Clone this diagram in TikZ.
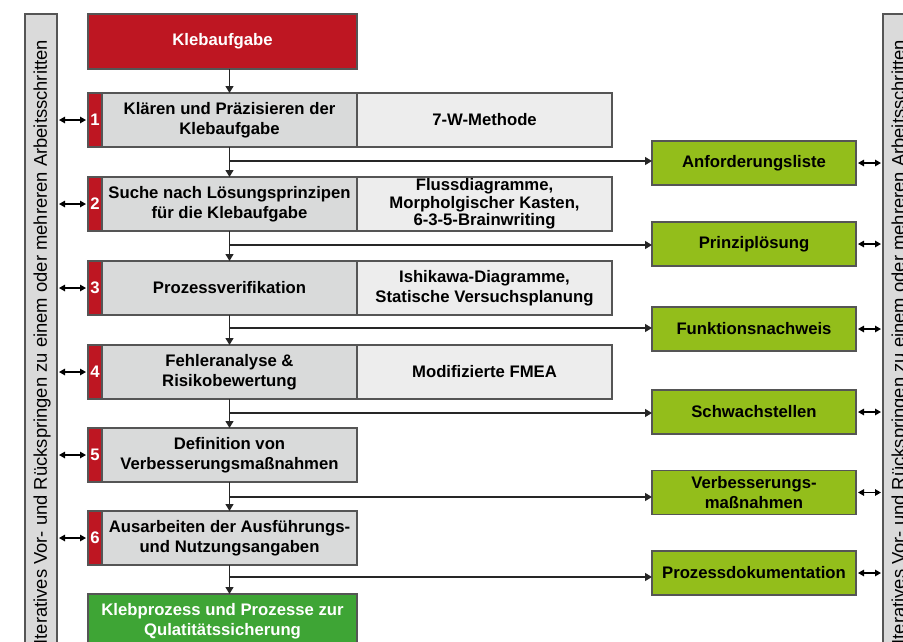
\documentclass[tikz,border=0pt]{standalone}
\usepackage{fontspec}
\setmainfont{Liberation Sans}
\usetikzlibrary{arrows.meta}
\definecolor{kred}{HTML}{BE1622}
\definecolor{stepgray}{HTML}{D9DADA}
\definecolor{methgray}{HTML}{EDEDED}
\definecolor{resgreen}{HTML}{93BE1B}
\definecolor{endgreen}{HTML}{3EA535}
\definecolor{bordergray}{HTML}{555555}
\definecolor{bargray}{HTML}{DADADA}
\begin{document}
\begin{tikzpicture}[x=1pt,y=-1pt,
  every node/.style={inner sep=0pt, outer sep=0pt, font=\fontsize{16.7}{20}\selectfont\bfseries, align=center},
  boxbase/.style={draw=bordergray, line width=1.2pt},
  topbox/.style={boxbase, fill=kred, text=white, minimum width=269pt, minimum height=55pt},
  strip/.style={boxbase, fill=kred, text=white, minimum width=14pt, minimum height=54pt},
  stepbox/.style={boxbase, fill=stepgray, minimum width=255pt, minimum height=54pt},
  methbox/.style={boxbase, fill=methgray, minimum width=255pt, minimum height=54pt},
  tightbox/.style={methbox, font=\fontsize{16.7}{17.5}\selectfont\bfseries},
  resbox/.style={boxbase, fill=resgreen, minimum width=204pt, minimum height=44pt},
  endbox/.style={boxbase, fill=endgreen, text=white, minimum width=269pt, minimum height=54pt},
  sidebar/.style={boxbase, fill=bargray, minimum width=32pt, minimum height=660pt, anchor=north west},
  sidetext/.style={font=\fontsize{18.4}{20}\selectfont, rotate=90, anchor=east},
  flow/.style={line width=1.3pt, draw=black!85, -{Triangle[length=7pt,width=8pt]}},
  branch/.style={line width=1.3pt, draw=black!85, -{Triangle[length=7pt,width=8pt]}},
  dbl/.style={line width=1.3pt, {Triangle[length=6pt,width=6.5pt]}-{Triangle[length=6pt,width=6.5pt]}, shorten <=2pt, shorten >=2pt}
]
\useasboundingbox (0,0) rectangle (903,641);
\clip (0,0) rectangle (903,641);

% side bars
\node[sidebar] (lbar) at (25,14) {};
\node[sidebar] (rbar) at (883,14) {};
\node[sidetext] (ltext) at (42,40) {Iteratives Vor- und Rückspringen zu einem oder mehreren Arbeitsschritten};
\node[sidetext] (rtext) at (900,40) {Iteratives Vor- und Rückspringen zu einem oder mehreren Arbeitsschritten};

% top
\node[topbox] (top) at (222.5,41.5) {Klebaufgabe};

% steps
\node[strip] (n1) at (95,120) {1};
\node[stepbox] (s1) at (229.5,120) {Klären und Präzisieren der\\Klebaufgabe};
\node[methbox] (m1) at (484.5,120) {7-W-Methode};

\node[strip] (n2) at (95,204) {2};
\node[stepbox] (s2) at (229.5,204) {Suche nach Lösungsprinzipen\\für die Klebaufgabe};
\node[tightbox] (m2) at (484.5,204) {Flussdiagramme,\\Morpholgischer Kasten,\\6-3-5-Brainwriting};

\node[strip] (n3) at (95,288) {3};
\node[stepbox] (s3) at (229.5,288) {Prozessverifikation};
\node[methbox] (m3) at (484.5,288) {Ishikawa-Diagramme,\\Statische Versuchsplanung};

\node[strip] (n4) at (95,372) {4};
\node[stepbox] (s4) at (229.5,372) {Fehleranalyse \&\\Risikobewertung};
\node[methbox] (m4) at (484.5,372) {Modifizierte FMEA};

\node[strip] (n5) at (95,455) {5};
\node[stepbox] (s5) at (229.5,455) {Definition von\\Verbesserungsmaßnahmen};

\node[strip] (n6) at (95,538) {6};
\node[stepbox] (s6) at (229.5,538) {Ausarbeiten der Ausführungs-\\und Nutzungsangaben};

\node[endbox] (end) at (222.5,621) {Klebprozess und Prozesse zur\\Qulatitätssicherung};

% results
\node[resbox] (g1) at (754,163) {Anforderungsliste};
\node[resbox] (g2) at (754,244) {Prinziplösung};
\node[resbox] (g3) at (754,329) {Funktionsnachweis};
\node[resbox] (g4) at (754,412) {Schwachstellen};
\node[resbox] (g5) at (754,492.5) {Verbesserungs-\\maßnahmen};
\node[resbox] (g6) at (754,573) {Prozessdokumentation};

% flow
\draw[flow] (top.south -| s1.south) -- (s1.north);
\draw[flow] (s1.south) -- (s2.north);
\draw[flow] (s2.south) -- (s3.north);
\draw[flow] (s3.south) -- (s4.north);
\draw[flow] (s4.south) -- (s5.north);
\draw[flow] (s5.south) -- (s6.north);
\draw[flow] (s6.south) -- (s6.south |- end.north);

% branches
\coordinate (b1) at (229.5,161);
\coordinate (b2) at (229.5,245);
\coordinate (b3) at (229.5,328);
\coordinate (b4) at (229.5,413);
\coordinate (b5) at (229.5,497);
\coordinate (b6) at (229.5,577);
\draw[branch] (b1) -- (b1 -| g1.west);
\draw[branch] (b2) -- (b2 -| g2.west);
\draw[branch] (b3) -- (b3 -| g3.west);
\draw[branch] (b4) -- (b4 -| g4.west);
\draw[branch] (b5) -- (b5 -| g5.west);
\draw[branch] (b6) -- (b6 -| g6.west);

% side double arrows
\foreach \i in {1,...,6}{
  \draw[dbl] (lbar.east |- n\i.west) -- (n\i.west);
  \draw[dbl] (g\i.east) -- (rbar.west |- g\i.east);
}
\end{tikzpicture}
\end{document}
